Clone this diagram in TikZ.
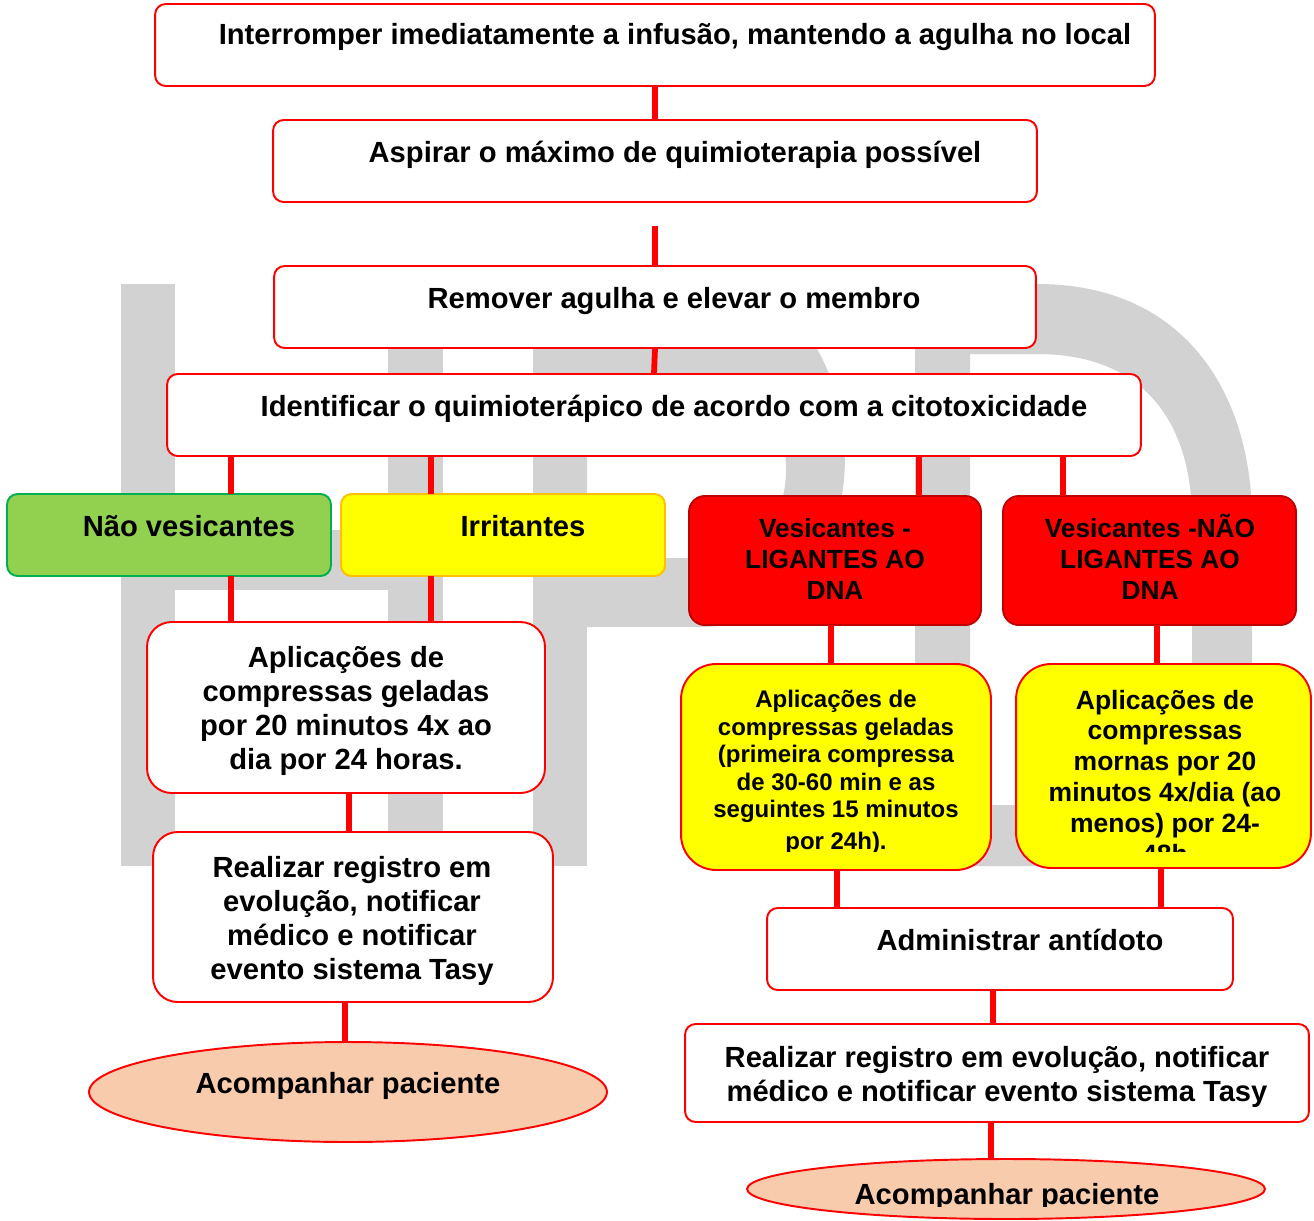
\documentclass[tikz,border=0pt]{standalone}
\usepackage{fontspec}
\setmainfont{Liberation Sans}
\usetikzlibrary{shapes.geometric}
\definecolor{wm}{RGB}{210,210,210}
\definecolor{grn}{RGB}{146,208,80}
\definecolor{grnb}{RGB}{0,176,80}
\definecolor{yel}{RGB}{255,255,0}
\definecolor{orb}{RGB}{255,192,0}
\definecolor{rd}{RGB}{255,0,0}
\definecolor{rdb}{RGB}{192,0,0}
\definecolor{peach}{RGB}{248,203,173}
\begin{document}
\begin{tikzpicture}[x=0.02cm,y=-0.02cm,
  shp/.style={inner sep=0pt, outer sep=0pt, line width=1.1pt},
  wbox/.style={shp, draw=rd, fill=white, rounded corners=6pt},
  wboxr/.style={shp, draw=rd, fill=white, rounded corners=14pt},
  ybox/.style={shp, draw=rd, fill=yel, rounded corners=20pt},
  rbox/.style={shp, draw=rdb, fill=rd, rounded corners=9pt},
  gbox/.style={shp, draw=grnb, fill=grn, rounded corners=6pt},
  ibox/.style={shp, draw=orb, fill=yel, rounded corners=6pt},
  ell/.style={shp, ellipse, draw=rd, fill=peach},
  conn/.style={draw=rd, line width=3.3pt},
  tmain/.style={inner sep=0pt, align=center, font=\fontsize{16.6}{19.35}\selectfont\bfseries},
  tred/.style={inner sep=0pt, align=center, font=\fontsize{14.96}{17.64}\selectfont\bfseries},
  tyone/.style={inner sep=0pt, align=center, font=\fontsize{13.66}{15.65}\selectfont\bfseries},
  tytwo/.style={inner sep=0pt, align=center, font=\fontsize{15.08}{17.64}\selectfont\bfseries}]
\useasboundingbox (0,0) rectangle (1314,1220);
\fill[white] (0,0) rectangle (1314,1220);
% watermark
\fill[wm] (121,284) rectangle (175,866);
\fill[wm] (388,284) rectangle (443,866);
\fill[wm] (175,530) rectangle (388,590);
\fill[wm] (533,284) rectangle (587,866);
\fill[wm, even odd rule] (587,284) -- (720,284) .. controls (800,284) and (845,380) .. (845,455) .. controls (845,560) and (790,627) .. (700,627) -- (587,627) -- cycle
  (587,378) -- (700,378) .. controls (760,378) and (786,420) .. (786,470) .. controls (786,520) and (755,558) .. (700,558) -- (587,558) -- cycle;
\fill[wm] (915,284) rectangle (970,866);
\fill[wm, even odd rule] (970,284) -- (1037,284) .. controls (1190,284) and (1252,400) .. (1252,520) -- (1252,680) .. controls (1252,800) and (1190,866) .. (1037,866) -- (970,866) -- cycle
  (970,354) -- (1037,354) .. controls (1150,354) and (1192,430) .. (1192,520) -- (1192,680) .. controls (1192,760) and (1150,805) .. (1037,805) -- (970,805) -- cycle;
% boxes
\node[wbox, minimum width=20cm, minimum height=1.64cm] (b1) at (655,45) {};
\node[wbox, minimum width=15.28cm, minimum height=1.64cm] (b2) at (655,161) {};
\node[wbox, minimum width=15.24cm, minimum height=1.64cm] (b3) at (655,307) {};
\node[wbox, minimum width=19.48cm, minimum height=1.64cm] (b4) at (654,415) {};
\node[gbox, minimum width=6.48cm, minimum height=1.64cm] (nv) at (169,535) {};
\node[ibox, minimum width=6.48cm, minimum height=1.64cm] (irr) at (503,535) {};
\node[rbox, minimum width=5.84cm, minimum height=2.58cm] (v1) at (835,560.5) {};
\node[rbox, minimum width=5.86cm, minimum height=2.58cm] (v2) at (1149.5,560.5) {};
\node[wboxr, minimum width=7.96cm, minimum height=3.42cm] (apl) at (346,707.5) {};
\node[wboxr, minimum width=8.0cm, minimum height=3.4cm] (real) at (353,917) {};
\node[ell, minimum width=10.36cm, minimum height=2.0cm] (ell1) at (348,1092) {};
\node[ybox, minimum width=6.2cm, minimum height=4.12cm] (y1) at (836,767) {};
\node[ybox, minimum width=5.9cm, minimum height=4.08cm] (y2) at (1163.5,766) {};
\node[wbox, minimum width=9.32cm, minimum height=1.64cm] (adm) at (1000,949) {};
\node[wbox, minimum width=12.48cm, minimum height=1.96cm] (real2) at (997,1073) {};
\node[ell, minimum width=10.36cm, minimum height=1.2cm] (ell2) at (1006,1189) {};
% connector x positions
\coordinate (c23) at (655,226);
\coordinate (ka) at (231,0);
\coordinate (kb) at (431,0);
\coordinate (kc) at (919,0);
\coordinate (kd) at (1063,0);
\coordinate (ke) at (349,0);
\coordinate (kf) at (345,0);
\coordinate (kg) at (831,0);
\coordinate (kh) at (1157,0);
\coordinate (ki) at (837,0);
\coordinate (kj) at (1161,0);
\coordinate (kk) at (993,0);
\coordinate (kl) at (991,0);
% connectors
\draw[conn] (b1.south) -- (b2.north);
\draw[conn] (c23) -- (b3.north);
\draw[conn] (b3.south) -- (b4.north);
\draw[conn] (b4.south -| ka) -- (nv.north -| ka);
\draw[conn] (b4.south -| kb) -- (irr.north -| kb);
\draw[conn] (b4.south -| kc) -- (v1.north -| kc);
\draw[conn] (b4.south -| kd) -- (v2.north -| kd);
\draw[conn] (nv.south -| ka) -- (apl.north -| ka);
\draw[conn] (irr.south -| kb) -- (apl.north -| kb);
\draw[conn] (apl.south -| ke) -- (real.north -| ke);
\draw[conn] (real.south -| kf) -- (ell1.north -| kf);
\draw[conn] (v1.south -| kg) -- (y1.north -| kg);
\draw[conn] (v2.south -| kh) -- (y2.north -| kh);
\draw[conn] (y1.south -| ki) -- (adm.north -| ki);
\draw[conn] (y2.south -| kj) -- (adm.north -| kj);
\draw[conn] (adm.south -| kk) -- (real2.north -| kk);
\draw[conn] (real2.south -| kl) -- (ell2.north -| kl);
% texts
\node[tmain, anchor=base] (t1) at (675,45) {Interromper imediatamente a infusão, mantendo a agulha no local};
\node[tmain, anchor=base] (t2) at (675,162) {Aspirar o máximo de quimioterapia possível};
\node[tmain, anchor=base] (t3) at (674,308) {Remover agulha e elevar o membro};
\node[tmain, anchor=base] (t4) at (674,416) {Identificar o quimioterápico de acordo com a citotoxicidade};
\node[tmain, anchor=base] (tnv) at (189,536) {Não vesicantes};
\node[tmain, anchor=base] (tirr) at (523,536) {Irritantes};
\node[tred] (tv1) at (835,559) {Vesicantes -\\LIGANTES AO\\DNA};
\node[tred] (tv2) at (1150,557) {Vesicantes -NÃO\\LIGANTES AO\\DNA};
\node[tmain] (tapl) at (346,711) {Aplicações de\\compressas geladas\\por 20 minutos 4x ao\\dia por 24 horas.};
\node[tmain] (treal) at (352,921) {Realizar registro em\\evolução, notificar\\médico e notificar\\evento sistema Tasy};
\node[tmain, anchor=base] (tell1) at (348,1093.5) {Acompanhar paciente};
\begin{scope}
\clip (600,600) rectangle (1314,851);
\node[tyone] (ty1) at (836,772.5) {Aplicações de\\compressas geladas\\(primeira compressa\\de 30-60 min e as\\seguintes 15 minutos\\[2.6pt]por 24h).};
\node[tytwo] (ty2) at (1165,777) {Aplicações de\\compressas\\mornas por 20\\minutos 4x/dia (ao\\menos) por 24-\\48h};
\end{scope}
\node[tmain, anchor=base] (tadm) at (1020,950.5) {Administrar antídoto};
\node[tmain] (treal2) at (997,1077) {Realizar registro em evolução, notificar\\médico e notificar evento sistema Tasy};
\begin{scope}
\clip (700,1150) rectangle (1314,1206);
\node[tmain, anchor=base] (tell2) at (1007,1204) {Acompanhar paciente};
\end{scope}
\end{tikzpicture}
\end{document}
